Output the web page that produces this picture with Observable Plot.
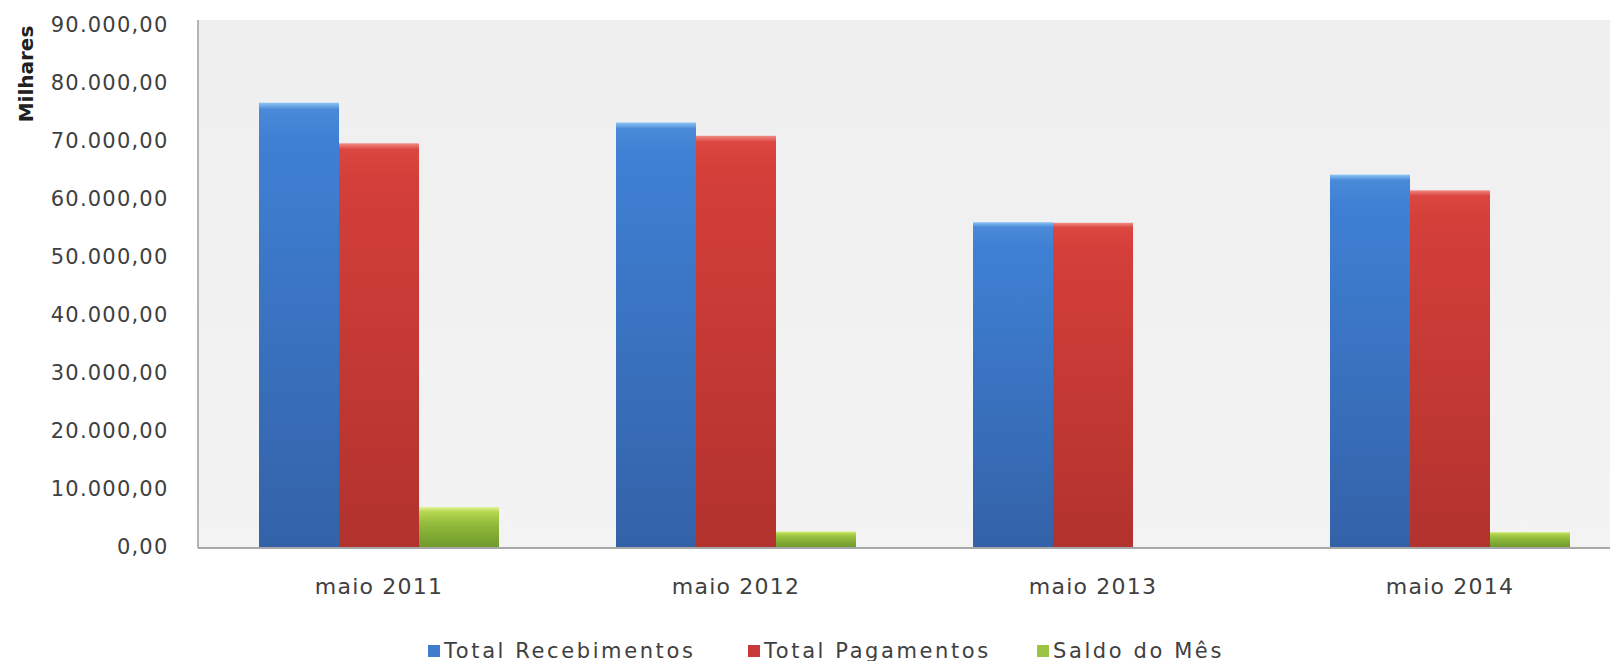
<!DOCTYPE html>
<html>
<head>
<meta charset="utf-8">
<script src="https://cdn.jsdelivr.net/npm/d3@7"></script>
<script src="https://cdn.jsdelivr.net/npm/@observablehq/plot@0.6"></script>
<style>
  html, body { margin: 0; padding: 0; background: #fff; overflow: hidden; }
  #chart { width: 1610px; height: 600px; }
  #chart svg { display: block; }
  #legend { position: relative; height: 61px; font-family: "DejaVu Sans", sans-serif; font-size: 21px; color: #404040; letter-spacing: 2.6px; }
  .item { position: absolute; top: 39px; display: flex; align-items: center; line-height: 24px; }
  .sw { width: 12px; height: 12px; margin-right: 4px; }
</style>
</head>
<body>
<div id="chart"></div>
<div id="legend"></div>
<script>
const categories = ["maio 2011", "maio 2012", "maio 2013", "maio 2014"];
const series = ["Total Recebimentos", "Total Pagamentos", "Saldo do Mês"];
const recebimentos = [76600, 73200, 56000, 64200];
const pagamentos = [69600, 70900, 55900, 61500];
const saldo = [6900, 2700, 0, 2600];
const yTicks = [0, 10000, 20000, 30000, 40000, 50000, 60000, 70000, 80000, 90000];
const yLabel = "Milhares";

const valuesBySeries = [recebimentos, pagamentos, saldo];
const data = [];
categories.forEach((c, i) => series.forEach((s, j) => data.push({cat: c, serie: s, value: valuesBySeries[j][i]})));

const fmt = d3.formatLocale({decimal: ",", thousands: ".", grouping: [3], currency: ["R$", ""]}).format(",.2f");
const gradIds = ["gBlue", "gRed", "gGreen"];

// The reference plot area runs a little past the right edge of the picture.
const W = 1610, H = 600, ML = 200, MT = 25, MB = 53, MR = -18;
const PI = 0.325, PO = 0.1625;
const step = (W - ML - MR) / (categories.length - PI + 2 * PO);
const facetOffset = PO * step; // axis marks sit on the first facet's frame

const plot = Plot.plot({
  width: W, height: H,
  marginLeft: ML, marginTop: MT, marginBottom: MB, marginRight: MR,
  style: {fontFamily: "DejaVu Sans, sans-serif", fontSize: "21px", color: "#404040", background: "transparent", overflow: "hidden"},
  fx: {domain: categories, paddingInner: PI, paddingOuter: PO, label: null, axis: null},
  x: {domain: series, padding: 0, axis: null},
  y: {domain: [0, 90000], label: null, axis: null},
  color: {domain: series, range: gradIds.map(id => `url(#${id})`)},
  marks: [
    Plot.axisY({ticks: yTicks, tickFormat: fmt, tickSize: 0, tickPadding: facetOffset + 32, label: null, fontSize: 21, fill: "#404040", className: "yax"}),
    Plot.barY(data, {fx: "cat", x: "serie", y: "value", fill: "serie"}),
    Plot.text(categories, {fx: d => d, text: d => d, frameAnchor: "bottom", dy: 46, fontSize: 22, fill: "#404040", className: "fxlab"})
  ]
});

const svg = d3.select(plot);
svg.selectAll(".yax text").attr("letter-spacing", "1.2px");
svg.selectAll(".fxlab text").attr("letter-spacing", "1.2px");
const defs = svg.insert("defs", ":first-child");
const grads = [
  {id: "gBlue", stops: [["0%", "#8cc4f4"], ["1.5%", "#4a8ad8"], ["8%", "#3f80d4"], ["100%", "#3362a8"]]},
  {id: "gRed", stops: [["0%", "#f08c84"], ["1.5%", "#dc4640"], ["8%", "#d43f3a"], ["100%", "#b2322e"]]},
  {id: "gGreen", stops: [["0%", "#e4f49c"], ["12%", "#b4d850"], ["40%", "#94bc3c"], ["100%", "#6f9a2c"]]}
];
grads.forEach(g => {
  const lg = defs.append("linearGradient").attr("id", g.id).attr("x1", 0).attr("y1", 0).attr("x2", 0).attr("y2", 1);
  g.stops.forEach(([o, c]) => lg.append("stop").attr("offset", o).attr("stop-color", c));
});
const hg = defs.append("linearGradient").attr("id", "bgGrad").attr("x1", 0).attr("y1", 0).attr("x2", 0).attr("y2", 1);
hg.append("stop").attr("offset", "0%").attr("stop-color", "#efefef");
hg.append("stop").attr("offset", "100%").attr("stop-color", "#f3f3f3");

// plot-area background and axis lines
const bg = svg.insert("g", "defs + *");
bg.append("rect").attr("x", ML - 2).attr("y", MT - 5).attr("width", W - ML + 2).attr("height", H - MB - MT + 5).attr("fill", "url(#bgGrad)");
bg.append("line").attr("x1", ML - 2).attr("x2", ML - 2).attr("y1", MT - 5).attr("y2", H - MB + 1).attr("stroke", "#b4b4b4").attr("stroke-width", 2);
svg.append("line").attr("x1", ML - 2).attr("x2", W).attr("y1", H - MB + 1).attr("y2", H - MB + 1).attr("stroke", "#a8a8a8").attr("stroke-width", 2);

// Y axis title
svg.append("text").attr("transform", `translate(33, 74) rotate(-90)`).attr("text-anchor", "middle")
  .attr("font-family", "DejaVu Sans, sans-serif").attr("font-weight", "bold").attr("font-size", 20).attr("fill", "#202020").text(yLabel);

document.getElementById("chart").appendChild(plot);

// Legend
const legend = d3.select("#legend");
const legendLeft = [428, 748, 1037];
series.forEach((s, i) => {
  const it = legend.append("div").attr("class", "item").style("left", legendLeft[i] + "px");
  it.append("div").attr("class", "sw").style("background", ["#3f7ccc", "#c8383a", "#9cc444"][i]);
  it.append("span").text(s);
});
</script>
</body>
</html>
